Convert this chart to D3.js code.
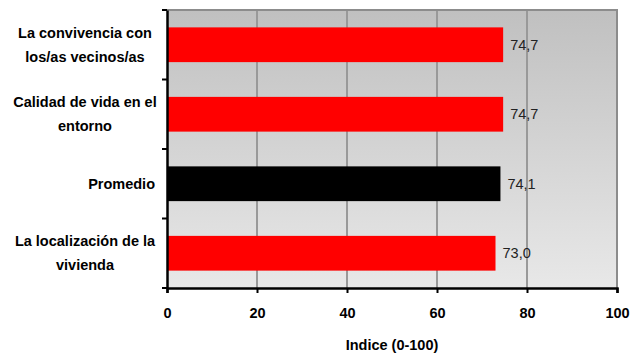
<!DOCTYPE html>
<html><head><meta charset="utf-8">
<script src="https://cdn.jsdelivr.net/npm/d3@7"></script>
<style>body{margin:0;background:#fff}svg{display:block;font-family:"Liberation Sans",Arial,sans-serif}</style>
</head><body>
<svg id="c" width="632" height="356"></svg>
<script>
const categories = [["La convivencia con","los/as vecinos/as"],["Calidad de vida en el","entorno"],["Promedio"],["La localización de la","vivienda"]];
const values = [74.7, 74.7, 74.1, 73.0];
const barColors = ["#ff0000","#ff0000","#000000","#ff0000"];
const xTicks = [0,20,40,60,80,100];
const xTitle = "Indice (0-100)";

const svg = d3.select("#c");
const L=167, R=617, T=10, B=288;
const x = d3.scaleLinear().domain([0,100]).range([L,R]);
const y = d3.scaleBand().domain(d3.range(categories.length)).range([T,B]).paddingInner(0.5).paddingOuter(0.25);
const yb = d3.scaleBand().domain(d3.range(categories.length)).range([T,B]);

const defs = svg.append("defs");
const g = defs.append("linearGradient").attr("id","bg").attr("x1",0).attr("y1",0).attr("x2",0).attr("y2",1);
g.append("stop").attr("offset",0).attr("stop-color","#c0c0c0");
g.append("stop").attr("offset",1).attr("stop-color","#e8e8e8");
svg.append("rect").attr("x",L).attr("y",T).attr("width",R-L).attr("height",B-T).attr("fill","url(#bg)");

// grid
svg.selectAll(".grid").data(xTicks.slice(1,-1)).enter().append("line")
  .attr("x1",d=>x(d)).attr("x2",d=>x(d)).attr("y1",T).attr("y2",B)
  .attr("stroke","#999").attr("stroke-width",2);
// border top/right
svg.append("path").attr("d",`M${L},${T}H${R}V${B}`).attr("fill","none").attr("stroke","#8c8c8c").attr("stroke-width",2);

// bars
svg.selectAll(".bar").data(values).enter().append("rect")
  .attr("x",x(0)).attr("y",(d,i)=>y(i)).attr("width",d=>x(d)-x(0)).attr("height",y.bandwidth())
  .attr("fill",(d,i)=>barColors[i]);

// value labels
svg.selectAll(".val").data(values).enter().append("text")
  .attr("x",d=>x(d)+7).attr("y",(d,i)=>y(i)+y.bandwidth()/2).attr("dy","0.35em")
  .attr("font-size",14.5).attr("fill","#222").text(d=>d.toFixed(1).replace(".",","));

// axes
const xAxis = svg.append("g").attr("transform",`translate(0,${B})`)
  .call(d3.axisBottom(x).tickValues(xTicks).tickSize(5).tickPadding(15));
xAxis.select(".domain").attr("stroke","#000").attr("stroke-width",2.5);
xAxis.selectAll(".tick line").attr("stroke","#000").attr("stroke-width",2);
xAxis.selectAll(".tick text").attr("font-size",14.5).attr("font-weight","bold").attr("fill","#000")
  .attr("font-family","Liberation Sans, Arial, sans-serif");

const yAxis = svg.append("g").attr("transform",`translate(${L},0)`)
  .call(d3.axisLeft(yb).tickValues(d3.range(categories.length+1)).tickSize(0).tickFormat(""));
yAxis.selectAll(".tick").remove();
yAxis.select(".domain").attr("stroke","#000").attr("stroke-width",2.5);
// y ticks at band boundaries
svg.selectAll(".ytick").data(d3.range(categories.length+1)).enter().append("line")
  .attr("x1",L-5).attr("x2",L).attr("y1",i=>i<categories.length?yb(i):B).attr("y2",i=>i<categories.length?yb(i):B)
  .attr("stroke","#000").attr("stroke-width",2);

// category labels (multi-line centred, single-line right-aligned as in the source)
categories.forEach((lines,i)=>{
  const cy = yb(i)+yb.bandwidth()/2;
  const n = lines.length;
  lines.forEach((ln,j)=>{
    svg.append("text").attr("x",n>1?85:155).attr("y",cy+(j-(n-1)/2)*24).attr("dy","0.35em")
      .attr("text-anchor",n>1?"middle":"end").attr("font-size",14.5).attr("font-weight","bold").attr("fill","#000").text(ln);
  });
});

svg.append("text").attr("x",392).attr("y",345).attr("dy","0.35em").attr("text-anchor","middle")
  .attr("font-size",14.5).attr("font-weight","bold").attr("fill","#000").text(xTitle);
</script>
</body></html>
